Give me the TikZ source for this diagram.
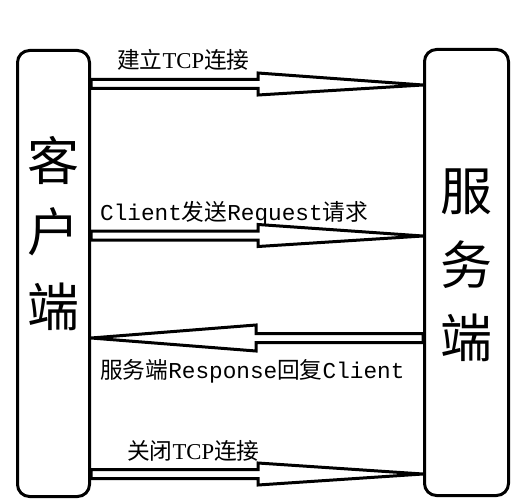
\documentclass[tikz,border=0pt]{standalone}
\usepackage{fontspec}
\setmainfont{Liberation Serif}
\newfontfamily\cjk{Noto Sans CJK SC}
\newfontfamily\monof{Liberation Mono}
\usetikzlibrary{calc}
\begin{document}
\begin{tikzpicture}[x=1pt,y=-1pt,
  endbox/.style={draw=black,line width=3pt,rounded corners=12pt,fill=white,inner sep=0pt},
  bigchar/.style={font=\cjk\fontsize{52}{52}\selectfont,inner sep=0pt},
  lbl/.style={font=\fontsize{22.7}{23}\selectfont,inner sep=0pt,anchor=west},
  blockarrow/.style={draw=black,line width=3pt,fill=white,line join=miter}
]
\useasboundingbox[fill=white] (0,0) rectangle (521,500);
% boxes
\node[endbox,minimum width=72pt,minimum height=446pt] (client) at (53.5,273.5) {};
\node[endbox,minimum width=84pt,minimum height=446pt] (server) at (466.5,272.5) {};
% big labels
\node[bigchar] (c1) at (53,160) {客};
\node[bigchar] (c2) at (53,232) {户};
\node[bigchar] (c3) at (53,307) {端};
\node[bigchar] (s1) at (466,192) {服};
\node[bigchar] (s2) at (466,265) {务};
\node[bigchar] (s3) at (466,338) {端};
% anchor coordinates of arrows
\coordinate (a1s) at (client.east |- 0,84);
\coordinate (a1e) at (server.west |- 0,85);
\coordinate (a2s) at (client.east |- 0,235.5);
\coordinate (a2e) at (server.west |- 0,236);
\coordinate (a3s) at (server.west |- 0,338);
\coordinate (a3e) at (client.east |- 0,338);
\coordinate (a4s) at (client.east |- 0,474);
\coordinate (a4e) at (server.west |- 0,474);
% right-pointing block arrows
\foreach \s/\e in {a1s/a1e,a2s/a2e,a4s/a4e}{
  \draw[blockarrow] ($(\s)+(0,-4.5)$) -- ($(258,0 |- \s)+(0,-4.5)$) -- ($(258,0 |- \s)+(0,-11)$)
    -- (\e) -- ($(258,0 |- \s)+(0,11)$) -- ($(258,0 |- \s)+(0,4.5)$) -- ($(\s)+(0,4.5)$) -- cycle;
}
% left-pointing block arrow
\draw[blockarrow] ($(a3s)+(0,-4.5)$) -- ($(256,0 |- a3s)+(0,-4.5)$) -- ($(256,0 |- a3s)+(0,-13)$)
  -- (a3e) -- ($(256,0 |- a3s)+(0,13)$) -- ($(256,0 |- a3s)+(0,4.5)$) -- ($(a3s)+(0,4.5)$) -- cycle;
% text labels
\node[lbl] (l1) at (117,60) {{\cjk 建立}TCP{\cjk 连接}};
\node[lbl] (l2) at (100,213) {{\monof Client}{\cjk 发送}{\monof Request}{\cjk 请求}};
\node[lbl] (l3) at (100,371) {{\cjk 服务端}{\monof Response}{\cjk 回复}{\monof Client}};
\node[lbl] (l4) at (127,451) {{\cjk 关闭}TCP{\cjk 连接}};
\end{tikzpicture}
\end{document}
